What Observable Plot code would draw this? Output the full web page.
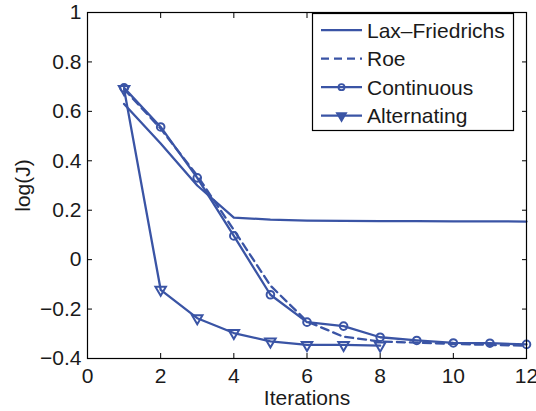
<!DOCTYPE html>
<html>
<head>
<meta charset="utf-8">
<script src="https://cdn.jsdelivr.net/npm/d3@7"></script>
<script src="https://cdn.jsdelivr.net/npm/@observablehq/plot@0.6"></script>
<style>
  body { margin: 0; background: #fff; }
  #chart { position: relative; width: 536px; height: 411px; font-family: "Liberation Sans", Arial, sans-serif; }
  #chart svg.legend { position: absolute; left: 0; top: 0; pointer-events: none; }
</style>
</head>
<body>
<div id="chart"></div>
<script>
// Convergence of the cost functional per optimisation iteration
const iterations = [1, 2, 3, 4, 5, 6, 7, 8, 9, 10, 11, 12];
const laxFriedrichs = [0.63, 0.47, 0.30, 0.17, 0.162, 0.158, 0.157, 0.156, 0.156, 0.155, 0.155, 0.154];
const roe = [0.69, 0.53, 0.34, 0.12, -0.105, -0.25, -0.312, -0.331, -0.336, -0.341, -0.345, -0.348];
const continuous = [0.695, 0.537, 0.331, 0.096, -0.142, -0.253, -0.269, -0.314, -0.327, -0.337, -0.338, -0.343];
const alternating = [0.69, -0.122, -0.237, -0.297, -0.331, -0.345, -0.345, -0.348];

const xTicks = [0, 2, 4, 6, 8, 10, 12];
const yTicks = [-0.4, -0.2, 0, 0.2, 0.4, 0.6, 0.8, 1];
const seriesNames = ["Lax\u2013Friedrichs", "Roe", "Continuous", "Alternating"];

const blue = "#3a54a5";
const fmt = d3.format("~g");
const rows = (values) => values.map((y, i) => ({x: iterations[i], y}));

// MATLAB-style downward triangle marker
const triangleDown = {
  draw(context, size) {
    const s3 = Math.sqrt(3);
    const y = Math.sqrt(size / (s3 * 3));
    context.moveTo(0, y * 2);
    context.lineTo(-s3 * y, -y);
    context.lineTo(s3 * y, -y);
    context.closePath();
  }
};

const series = [
  {name: seriesNames[0], data: rows(laxFriedrichs), dash: null, symbol: null},
  {name: seriesNames[1], data: rows(roe), dash: "8,5", symbol: null},
  {name: seriesNames[2], data: rows(continuous), dash: null, symbol: "circle"},
  {name: seriesNames[3], data: rows(alternating), dash: null, symbol: triangleDown}
];

const lineMarks = series.flatMap((s) => {
  const m = [Plot.line(s.data, {x: "x", y: "y", stroke: blue, strokeWidth: 2.3, strokeDasharray: s.dash})];
  if (s.symbol) {
    m.push(Plot.dot(s.data, {x: "x", y: "y", symbol: s.symbol, r: s.symbol === "circle" ? 3.8 : 3.9,
      stroke: blue, strokeWidth: 2, fill: "none"}));
  }
  return m;
});

const chart = Plot.plot({
  width: 536,
  height: 411,
  marginLeft: 87,
  marginRight: 10,
  marginTop: 12,
  marginBottom: 53,
  x: {domain: [0, 12], label: null},
  y: {domain: [-0.4, 1], label: null},
  style: {fontFamily: "'Liberation Sans', Arial, sans-serif", fontSize: "21px", color: "#1a1a1a", background: "white"},
  marks: [
    Plot.axisX(xTicks, {anchor: "bottom", tickSize: -5, tickPadding: 15, tickFormat: fmt, label: null, stroke: "black"}),
    Plot.axisX(xTicks, {anchor: "top", tickSize: -5, tickFormat: () => "", label: null, stroke: "black"}),
    Plot.axisY(yTicks, {anchor: "left", tickSize: -5, tickPadding: 11, tickFormat: fmt, label: null, stroke: "black"}),
    Plot.axisY(yTicks, {anchor: "right", tickSize: -5, tickFormat: () => "", label: null, stroke: "black"}),
    ...lineMarks,
    Plot.frame({stroke: "black", strokeWidth: 1.2}),
    Plot.text(["Iterations"], {frameAnchor: "bottom", lineAnchor: "middle", dy: 39.5, fontSize: 21, fill: "#1a1a1a"}),
    Plot.text(["log(J)"], {frameAnchor: "left", textAnchor: "middle", lineAnchor: "middle", dx: -64, rotate: -90, fontSize: 21, fill: "#1a1a1a"})
  ]
});

const container = document.getElementById("chart");
container.appendChild(chart);

// Legend box in the upper-right corner of the axes
const legend = d3.create("svg")
  .attr("class", "legend")
  .attr("width", 536)
  .attr("height", 411);
legend.append("rect")
  .attr("x", 312.5).attr("y", 13.5).attr("width", 201).attr("height", 117)
  .attr("fill", "white").attr("stroke", "black").attr("stroke-width", 1.2);
series.forEach((s, i) => {
  const cy = 30.2 + i * 28.5;
  const g = legend.append("g");
  g.append("line")
    .attr("x1", 321).attr("x2", 362).attr("y1", cy).attr("y2", cy)
    .attr("stroke", blue).attr("stroke-width", 2.3)
    .attr("stroke-dasharray", s.dash);
  if (s.symbol === "circle") {
    g.append("circle").attr("cx", 341.5).attr("cy", cy).attr("r", 3)
      .attr("fill", "none").attr("stroke", blue).attr("stroke-width", 1.8);
  } else if (s.symbol) {
    g.append("path")
      .attr("transform", `translate(341.5,${cy})`)
      .attr("d", d3.symbol(triangleDown, 40)())
      .attr("fill", blue).attr("stroke", blue).attr("stroke-width", 1.5);
  }
  g.append("text")
    .attr("x", 367).attr("y", cy)
    .attr("dy", "0.35em")
    .attr("font-size", 21)
    .attr("fill", "#1a1a1a")
    .text(s.name);
});
container.appendChild(legend.node());
</script>
</body>
</html>
